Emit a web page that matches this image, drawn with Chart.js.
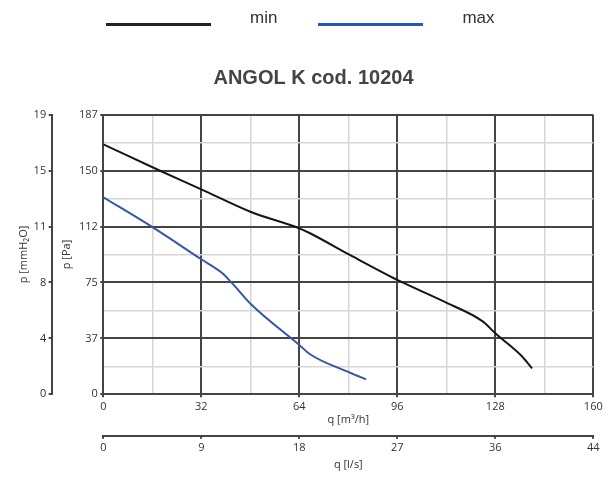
<!DOCTYPE html>
<html lang="en">
<head>
<meta charset="UTF-8">
<title>ANGOL K cod. 10204</title>
<script src="https://cdn.jsdelivr.net/npm/chart.js@4.4.1/dist/chart.umd.min.js"></script>
<style>
    body { margin: 0; background: #fff; }
    .wrap { position: relative; width: 614px; height: 478px; }
    #legend {
        position: absolute; top: 8px; left: 106px;
        font: 17px "Liberation Sans", Arial, sans-serif; color: #333;
        line-height: 20px; white-space: nowrap;
    }
    #legend .swatch { display: inline-block; width: 105px; height: 3px; vertical-align: -3px; margin-right: 39px; }
    #legend .item { margin-right: 41px; }
</style>
</head>
<body>
<div class="wrap">
    <canvas id="chart" width="614" height="478"></canvas>
    <div id="legend"></div>
</div>
<script>
    // chart data
    const chartTitle = 'ANGOL K cod. 10204';
    const seriesNames = ['min', 'max'];
    const seriesColors = ['#151515', '#3557a6'];
    const legendColors = ['#222222', '#1f5bb3'];

    const qMin = [0, 18, 32, 48, 64, 67.5, 80.5, 96, 112, 124, 128, 136.6, 140];
    const pMin = [167.2, 150, 137.1, 122.1, 111.0, 107.7, 93.2, 76.5, 61.3, 48.6, 40.8, 25.6, 17.4];
    const qMax = [0, 15.8, 32, 38.7, 41.9, 48.5, 64, 67.5, 80.5, 85.8];
    const pMax = [131.8, 112.1, 90.3, 81.3, 74.7, 59.7, 33, 26.8, 14.5, 10.0];

    const paMax = 187, mmMax = 19, m3hMax = 160, lsMax = 44.44;
    const paLabels = ['0', '37', '75', '112', '150', '187'];
    const mmLabels = ['0', '4', '8', '11', '15', '19'];
    const m3hLabels = ['0', '32', '64', '96', '128', '160'];
    const lsLabels = ['0', '9', '18', '27', '36', '44'];

    const dark = '#444444';
    const light = '#d6d6d6';
    const tickFont = { family: 'Open Sans', size: 11 };

    // evenly spaced ticks, with a minor tick between labels when asked
    function evenTicks(labels, minor) {
        return function (scale) {
            const n = (labels.length - 1) * (minor ? 2 : 1);
            const step = (scale.max - scale.min) / n;
            scale.ticks = [];
            for (let i = 0; i <= n; i++) scale.ticks.push({ value: scale.min + i * step });
        };
    }
    function tickLabel(labels, minor) {
        return function (value, index) {
            if (!minor) return labels[index];
            return index % 2 === 0 ? labels[index / 2] : '';
        };
    }
    const gridColor = (c) => c.index % 2 === 0 ? dark : light;
    const gridWidth = (c) => c.index % 2 === 0 ? 2 : 1.5;
    const tickColor = (c) => c.index % 2 === 0 ? dark : 'rgba(0,0,0,0)';

    function axisTitle(text, pad) {
        return { display: true, text: text, color: '#333', font: tickFont, padding: pad };
    }

    const datasets = [
        { label: seriesNames[0], q: qMin, p: pMin, color: seriesColors[0] },
        { label: seriesNames[1], q: qMax, p: pMax, color: seriesColors[1] }
    ].map((s) => ({
        label: s.label,
        data: s.q.map((x, i) => ({ x: x, y: s.p[i] })),
        borderColor: s.color,
        backgroundColor: s.color,
        borderWidth: 2,
        pointRadius: 0,
        fill: false,
        cubicInterpolationMode: 'monotone',
        xAxisID: 'x',
        yAxisID: 'y'
    }));

    // html legend
    let html = '';
    seriesNames.forEach((name, i) => {
        html += `<span class="swatch" style="background:${legendColors[i]}"></span><span class="item">${name}</span>`;
    });
    document.getElementById('legend').innerHTML = html;

    new Chart(document.getElementById('chart'), {
        type: 'line',
        data: { datasets: datasets },
        options: {
            responsive: false,
            animation: false,
            layout: { padding: { left: 13, right: 0, top: 0, bottom: 2.3 } },
            plugins: {
                legend: { display: false },
                tooltip: { enabled: false },
                title: {
                    display: true,
                    text: chartTitle,
                    color: '#444',
                    font: { family: 'Liberation Sans', size: 20, weight: 'bold' },
                    padding: { top: 66.2, bottom: 24.5 }
                }
            },
            scales: {
                x: {
                    type: 'linear', position: 'bottom', weight: 0,
                    min: 0, max: m3hMax,
                    afterBuildTicks: evenTicks(m3hLabels, true),
                    afterFit: (s) => { s.height = 41.4; },
                    ticks: { callback: tickLabel(m3hLabels, true), autoSkip: false, maxRotation: 0, padding: 2.5, color: '#333', font: tickFont },
                    grid: { color: gridColor, lineWidth: gridWidth, tickColor: tickColor, tickLength: 3 },
                    border: { color: dark, width: 2 },
                    title: axisTitle('q [m³/h]', { top: 0, bottom: 9 })
                },
                xls: {
                    type: 'linear', position: 'bottom', weight: 1,
                    min: 0, max: lsMax,
                    afterBuildTicks: evenTicks(lsLabels, false),
                    afterFit: (s) => { s.height = 40; },
                    ticks: { callback: tickLabel(lsLabels, false), autoSkip: false, maxRotation: 0, padding: 2.5, color: '#333', font: tickFont },
                    grid: { drawOnChartArea: false, color: dark, tickColor: dark, tickLength: 3, lineWidth: 2 },
                    border: { color: dark, width: 2 },
                    title: axisTitle('q [l/s]', { top: 0, bottom: 4 })
                },
                y: {
                    type: 'linear', position: 'left', weight: 0,
                    min: 0, max: paMax,
                    afterBuildTicks: evenTicks(paLabels, true),
                    afterFit: (s) => { s.width = 51.6; },
                    ticks: { callback: tickLabel(paLabels, true), autoSkip: false, padding: 2.5, color: '#333', font: tickFont },
                    grid: { color: gridColor, lineWidth: gridWidth, tickColor: tickColor, tickLength: 3 },
                    border: { color: dark, width: 2 },
                    title: axisTitle('p [Pa]', { top: 8.4, bottom: 0 })
                },
                ymm: {
                    type: 'linear', position: 'left', weight: 1,
                    min: 0, max: mmMax,
                    afterBuildTicks: evenTicks(mmLabels, false),
                    afterFit: (s) => { s.width = 38.7; },
                    ticks: { callback: tickLabel(mmLabels, false), autoSkip: false, padding: 2.5, color: '#333', font: tickFont },
                    grid: { drawOnChartArea: false, color: dark, tickColor: dark, tickLength: 3, lineWidth: 2 },
                    border: { color: dark, width: 2 },
                    title: axisTitle('p [mmH₂O]', { top: 4.4, bottom: 0 })
                },
                // empty strip on the right so the plot ends where the original does
                spacer: {
                    type: 'linear', position: 'right',
                    afterFit: (s) => { s.width = 20.7; },
                    ticks: { display: false },
                    grid: { display: false },
                    border: { display: false }
                }
            }
        }
    });
</script>
</body>
</html>
